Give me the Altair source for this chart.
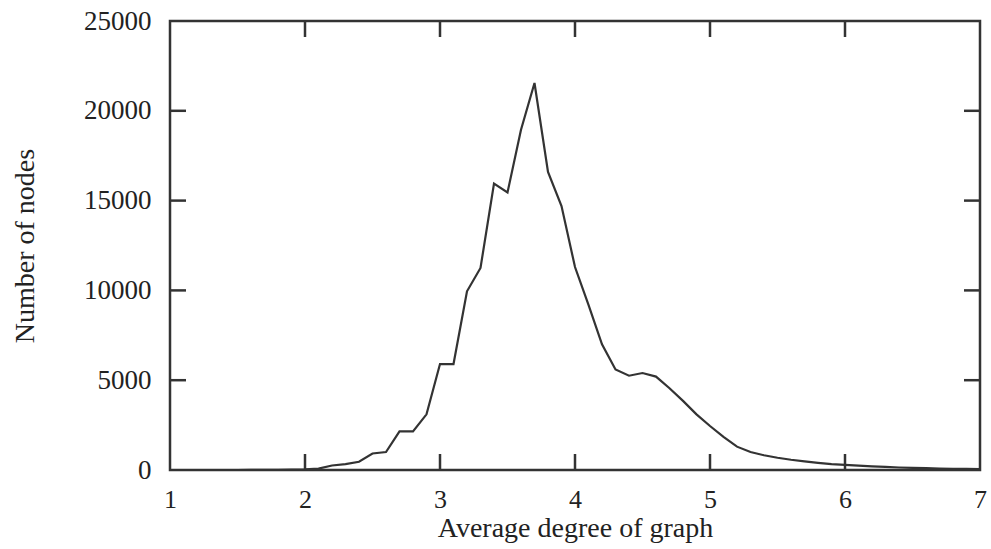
import altair as alt
import pandas as pd

# Average degree of graph (x) and number of nodes (y)
degree = [1.0, 1.1, 1.2, 1.3, 1.4, 1.5, 1.6, 1.7, 1.8, 1.9,
          2.0, 2.1, 2.2, 2.3, 2.4, 2.5, 2.6, 2.7, 2.8, 2.9,
          3.0, 3.1, 3.2, 3.3, 3.4, 3.5, 3.6, 3.7, 3.8, 3.9,
          4.0, 4.1, 4.2, 4.3, 4.4, 4.5, 4.6, 4.7, 4.8, 4.9,
          5.0, 5.1, 5.2, 5.3, 5.4, 5.5, 5.6, 5.7, 5.8, 5.9,
          6.0, 6.1, 6.2, 6.3, 6.4, 6.5, 6.6, 6.7, 6.8, 6.9, 7.0]
nodes = [0, 0, 0, 0, 0, 0, 10, 10, 10, 20,
         40, 80, 250, 330, 460, 920, 1000, 2150, 2150, 3100,
         5900, 5900, 9950, 11250, 15950, 15450, 18950, 21550, 16600, 14700,
         11300, 9200, 7000, 5600, 5250, 5400, 5200, 4550, 3850, 3100,
         2450, 1850, 1300, 1000, 820, 680, 570, 480, 400, 330,
         280, 240, 200, 170, 140, 120, 100, 80, 70, 60, 50]

x_ticks = [2, 3, 4, 5, 6]
y_ticks = [5000, 10000, 15000, 20000]

W, H = 810, 449
TICK = 16
FONT = "Liberation Serif"
INK = "#333333"

df = pd.DataFrame({"degree": degree, "nodes": nodes})
xt = pd.DataFrame({"v": x_ticks})
yt = pd.DataFrame({"v": y_ticks})

xscale = alt.Scale(domain=[1, 7], nice=False, zero=False)
yscale = alt.Scale(domain=[0, 25000], nice=False)

line = alt.Chart(df).mark_line(color=INK, strokeWidth=2.2).encode(
    x=alt.X("degree:Q", scale=xscale,
            axis=alt.Axis(title="Average degree of graph", values=[1, 2, 3, 4, 5, 6, 7],
                          format="d", ticks=False, tickSize=0, domain=False, grid=False,
                          labelFlush=False, labelOverlap=False, labelFontSize=26,
                          labelPadding=16, titleBaseline="alphabetic", titleY=66)),
    y=alt.Y("nodes:Q", scale=yscale,
            axis=alt.Axis(title="Number of nodes", values=[0, 5000, 10000, 15000, 20000, 25000],
                          format="d", ticks=False, tickSize=0, domain=False, grid=False,
                          labelFlush=False, labelOverlap=False, labelFontSize=27,
                          labelPadding=19, titleBaseline="alphabetic", titleX=-137,
                          titleY=H / 2, titleAngle=-90)),
)

bottom_ticks = alt.Chart(xt).mark_rule(color=INK, strokeWidth=2.5).encode(
    x=alt.X("v:Q", scale=xscale), y=alt.value(H), y2=alt.value(H - TICK))
top_ticks = alt.Chart(xt).mark_rule(color=INK, strokeWidth=2.5).encode(
    x=alt.X("v:Q", scale=xscale), y=alt.value(0), y2=alt.value(TICK))
left_ticks = alt.Chart(yt).mark_rule(color=INK, strokeWidth=2.5).encode(
    y=alt.Y("v:Q", scale=yscale), x=alt.value(0), x2=alt.value(TICK))
right_ticks = alt.Chart(yt).mark_rule(color=INK, strokeWidth=2.5).encode(
    y=alt.Y("v:Q", scale=yscale), x=alt.value(W), x2=alt.value(W - TICK))

chart = alt.layer(line, bottom_ticks, top_ticks, left_ticks, right_ticks).properties(
    width=W, height=H,
    autosize=alt.AutoSizeParams(type="none"),
    padding={"left": 170, "top": 21, "right": 11, "bottom": 79},
    background="white",
).configure_view(
    stroke=INK, strokeWidth=2.5
).configure_axis(
    labelFont=FONT, titleFont=FONT, titleFontSize=28,
    labelColor="#222222", titleColor="#222222", titleFontWeight="normal",
)

chart.save("out.html", embed_options={"renderer": "svg", "actions": False})
